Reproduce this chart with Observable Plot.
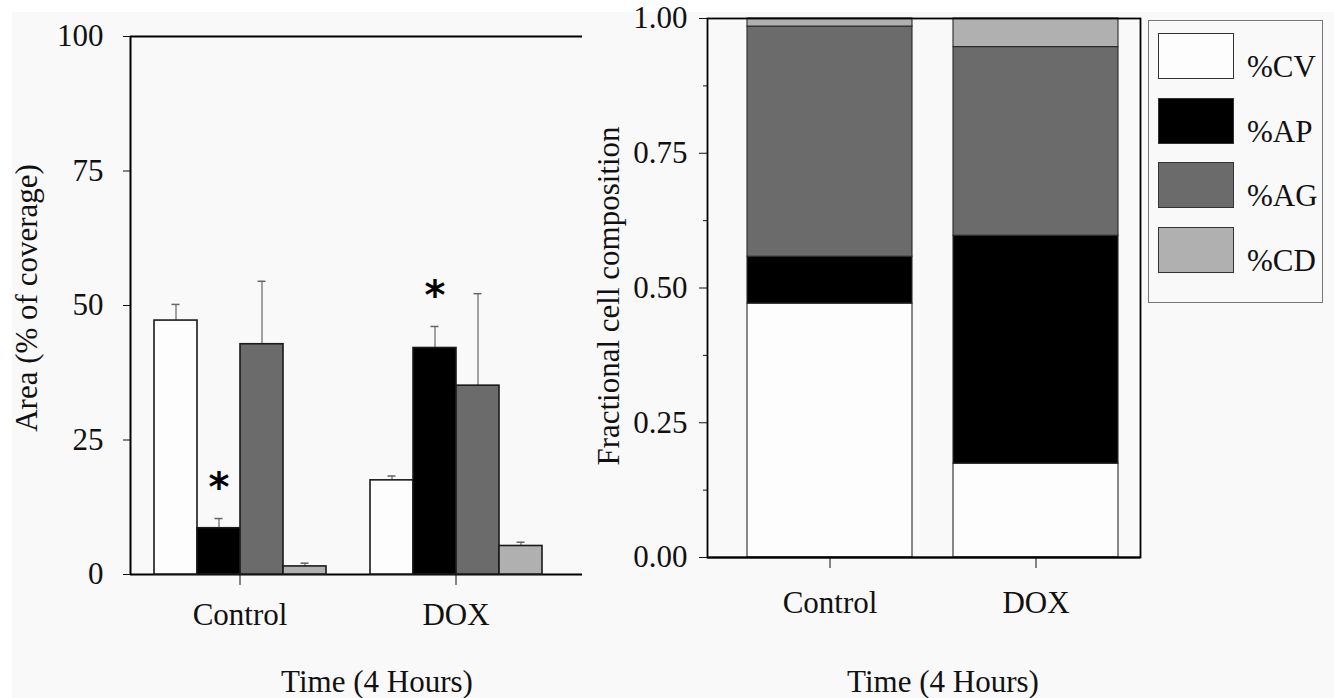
<!DOCTYPE html>
<html>
<head>
<meta charset="utf-8">
<script src="https://cdn.jsdelivr.net/npm/d3@7"></script>
<script src="https://cdn.jsdelivr.net/npm/@observablehq/plot@0.6"></script>
<style>
  html, body { margin: 0; padding: 0; background: #ffffff; }
  body { width: 1334px; height: 698px; overflow: hidden; position: relative; font-family: "Liberation Serif", "Times New Roman", serif; }
  #bg { position: absolute; left: 12px; top: 12px; right: 0; bottom: 0; background: #f9f9f9; }
  .layer { position: absolute; top: 0; }
  .layer svg { overflow: visible; font-family: "Liberation Serif", serif !important; }
  .layer svg [aria-label*="axis"], .layer svg [aria-label*="axis"] text { font-family: "Liberation Serif", serif !important; }
  .layer svg g[aria-label="text"], .layer svg g[aria-label="text"] text { font-family: "DejaVu Sans", sans-serif !important; }
  .title { position: absolute; font-size: 31px; line-height: 1; white-space: nowrap; color: #111; }
  .ylab { transform: translate(-50%, -50%) rotate(-90deg); }
  .xlab { transform: translate(-50%, -50%); }
  #legend { position: absolute; left: 1148px; top: 20px; width: 175px; height: 283px; border: 1px solid #777; box-sizing: border-box; }
  .leg-item { position: absolute; left: 9px; height: 46px; width: 170px; }
  .leg-swatch { position: absolute; left: 0; top: 0; width: 76px; height: 46px; box-sizing: border-box; border: 1.5px solid #333; }
  .leg-text { position: absolute; left: 89px; bottom: -3px; font-size: 31px; line-height: 1; color: #111; }
</style>
</head>
<body>
<div id="bg"></div>
<script>
// ---------- data ----------
const groups = ["Control", "DOX"];
const series = ["%CV", "%AP", "%AG", "%CD"];
const colors = ["#fdfdfd", "#000000", "#6b6b6b", "#b0b0b0"];

// left panel: area (% of coverage), mean and error
const areaControl = [47.2, 8.6, 42.8, 1.5];
const areaDOX     = [17.5, 42.1, 35.1, 5.3];
const errControl  = [3.0, 1.8, 11.7, 0.6];
const errDOX      = [0.8, 4.0, 17.1, 0.7];
const sigControl  = [false, true, false, false];
const sigDOX      = [false, true, false, false];
const areaTicks   = [0, 25, 50, 75, 100];

// right panel: fractional cell composition (stacked)
const fracControl = [0.471, 0.087, 0.427, 0.015];
const fracDOX     = [0.174, 0.423, 0.350, 0.053];
const fracTicks   = [0, 0.25, 0.5, 0.75, 1];
const fracMinor   = [0.125, 0.375, 0.625, 0.875];

// ---------- tables ----------
const areaVals = [areaControl, areaDOX];
const errVals = [errControl, errDOX];
const sigVals = [sigControl, sigDOX];
const areaRows = groups.flatMap((g, gi) => series.map((s, si) => ({
  group: g, series: s, value: areaVals[gi][si], err: errVals[gi][si], sig: sigVals[gi][si]
})));
const fracVals = [fracControl, fracDOX];
const fracRows = groups.flatMap((g, gi) => series.map((s, si) => ({
  group: g, series: s, value: fracVals[gi][si]
})));

const baseStyle = { background: "transparent", fontFamily: "Liberation Serif", fontSize: "31px", color: "#111", overflow: "visible" };
const colorScale = { domain: series, range: colors };

function addLayer(svg, left) {
  const d = document.createElement("div");
  d.className = "layer";
  d.style.left = left + "px";
  d.appendChild(svg);
  document.body.appendChild(d);
}

// ---------- left panel ----------
const L = { width: 600, height: 698, marginLeft: 130, marginRight: 18, marginTop: 36, marginBottom: 124 };

const leftFrame = Plot.plot({
  ...L,
  style: baseStyle,
  x: { domain: [0, 1], axis: null },
  y: { domain: [0, 100], ticks: areaTicks, tickSize: 7, tickPadding: 20, label: null },
  marks: [
    Plot.ruleY([0, 100], { stroke: "#000", strokeWidth: 2 }),
    Plot.ruleX([0], { stroke: "#000", strokeWidth: 2 })
  ]
});
addLayer(leftFrame, 0);

const leftBars = Plot.plot({
  ...L,
  style: baseStyle,
  facet: { data: areaRows, x: "group" },
  fx: { domain: groups, paddingInner: 0.2, paddingOuter: 0.1415, align: 0.358, axis: "bottom", tickSize: 11, tickPadding: 17, label: null },
  x: { domain: series, axis: null, paddingInner: 0, paddingOuter: 0 },
  y: { domain: [0, 100], axis: null },
  color: colorScale,
  marks: [
    Plot.ruleX(areaRows, { x: "series", y1: "value", y2: d => d.value + d.err, stroke: "#666", strokeWidth: 1.2 }),
    Plot.tickY(areaRows, { x: "series", y: d => d.value + d.err, stroke: "#666", strokeWidth: 1.5, insetLeft: 17.5, insetRight: 17.5 }),
    Plot.barY(areaRows, { x: "series", y: "value", fill: "series", stroke: "#1a1a1a", strokeWidth: 1.6 }),
    Plot.text(areaRows, { filter: d => d.sig, x: "series", y: d => d.value + d.err, text: d => "*", dy: -30, fontSize: 40, fontWeight: "bold", fontFamily: "DejaVu Sans", fill: "#000" })
  ]
});
addLayer(leftBars, 0);

// ---------- right panel ----------
const R = { width: 570, height: 698, marginLeft: 127, marginRight: 10, marginTop: 18, marginBottom: 141 };
const rightX = { domain: groups, paddingInner: 0.2, paddingOuter: 0.15, align: 0.648, tickSize: 11, tickPadding: 22, label: null };

const rightMinor = Plot.plot({
  ...R,
  style: baseStyle,
  x: { ...rightX, axis: null },
  y: { domain: [0, 1], ticks: fracMinor, tickSize: 4, tickFormat: () => "", label: null },
  marks: [ Plot.ruleY(fracMinor, { strokeOpacity: 0 }) ]
});
addLayer(rightMinor, 580);

const rightBars = Plot.plot({
  ...R,
  style: baseStyle,
  x: rightX,
  y: { domain: [0, 1], ticks: fracTicks, tickSize: 8, tickPadding: 12, tickFormat: d3.format(".2f"), label: null },
  color: colorScale,
  marks: [
    Plot.barY(fracRows, { x: "group", y: "value", fill: "series", stroke: "#2a2a2a", strokeWidth: 1.1 }),
    Plot.ruleY([0], { stroke: "#000", strokeWidth: 2 }),
    Plot.frame({ stroke: "#000", strokeWidth: 1.8 })
  ]
});
addLayer(rightBars, 580);

// ---------- titles ----------
function title(text, cls, x, y) {
  const t = document.createElement("div");
  t.className = "title " + cls;
  t.textContent = text;
  t.style.left = x + "px";
  t.style.top = y + "px";
  document.body.appendChild(t);
}
title("Area (% of coverage)", "ylab", 26, 298);
title("Fractional cell composition", "ylab", 608, 296);
title("Time (4 Hours)", "xlab", 377, 681);
title("Time (4 Hours)", "xlab", 943, 681);

// ---------- legend ----------
const legend = document.createElement("div");
legend.id = "legend";
series.forEach((s, i) => {
  const item = document.createElement("div");
  item.className = "leg-item";
  item.style.top = (12 + i * 64.7) + "px";
  const sw = document.createElement("div");
  sw.className = "leg-swatch";
  sw.style.background = colors[i];
  const tx = document.createElement("div");
  tx.className = "leg-text";
  tx.textContent = s;
  item.appendChild(sw);
  item.appendChild(tx);
  legend.appendChild(item);
});
document.body.appendChild(legend);
</script>
</body>
</html>
